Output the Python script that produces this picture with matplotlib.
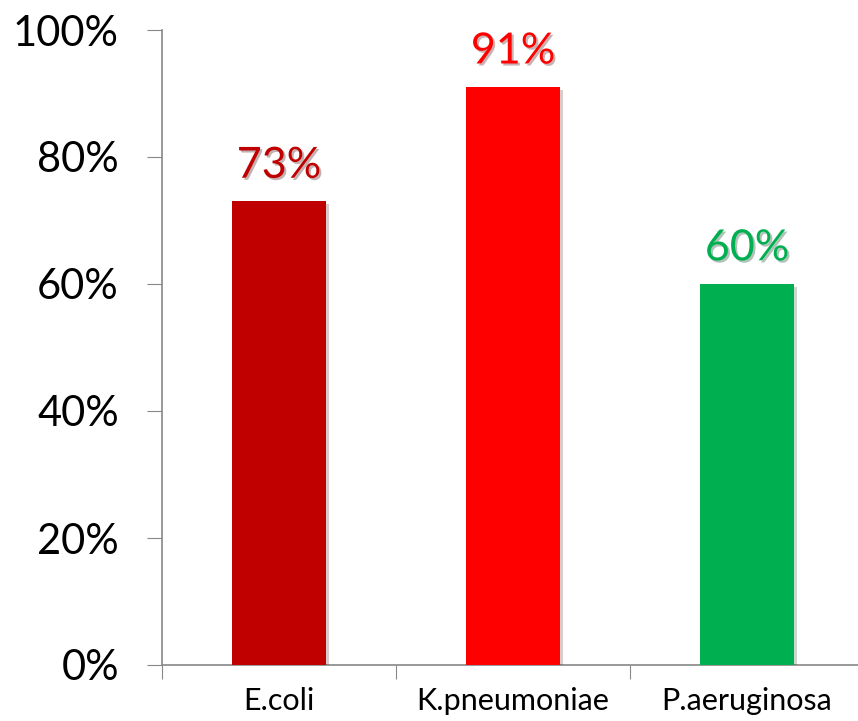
import matplotlib.pyplot as plt
import matplotlib.patheffects as pe
from matplotlib.ticker import PercentFormatter

# odsetek szczepów
bakterie = ['E.coli', 'K.pneumoniae', 'P.aeruginosa']
procent = [73, 91, 60]
kolory = ['#C00000', '#FF0000', '#00B050']

plt.rcParams['font.family'] = ['Lato', 'DejaVu Sans']

fig = plt.figure(figsize=(8.58, 7.21), dpi=100)
ax = fig.add_axes([162/858, 56/721, 702/858, 635/721])

cien = [pe.SimplePatchShadow(offset=(2, -2), alpha=0.2), pe.Normal()]
x = list(range(len(bakterie)))
slupki = ax.bar(x, procent, width=0.4, color=kolory, zorder=3)
for s in slupki:
    s.set_path_effects(cien)

for xi, v, k in zip(x, procent, kolory):
    ax.annotate(f'{v}%', (xi, v), xytext=(0, 12), textcoords='offset points',
                ha='center', va='bottom', fontsize=31, color=k,
                path_effects=[pe.SimplePatchShadow(offset=(1.5, -1.5), alpha=0.3), pe.Normal()])

ax.set_xlim(-0.5, len(bakterie) - 0.5)
ax.set_ylim(0, 100)
ax.set_yticks(range(0, 101, 20))
ax.yaxis.set_major_formatter(PercentFormatter(decimals=0))
ax.set_xticks([i - 0.5 for i in range(len(bakterie) + 1)], minor=False)
ax.set_xticklabels([])
ax.set_xticks(x, minor=True)
ax.set_xticklabels(bakterie, minor=True, fontsize=22)
ax.tick_params(axis='x', which='minor', length=0, pad=16)
ax.tick_params(axis='x', which='major', length=10, color='#888888', direction='out')
ax.tick_params(axis='y', length=11, color='#888888', labelsize=30, pad=20)

for side in ['top', 'right']:
    ax.spines[side].set_visible(False)
for side in ['left', 'bottom']:
    ax.spines[side].set_color('#888888')
    ax.spines[side].set_linewidth(1.2)

plt.savefig('out.png', dpi=100)
